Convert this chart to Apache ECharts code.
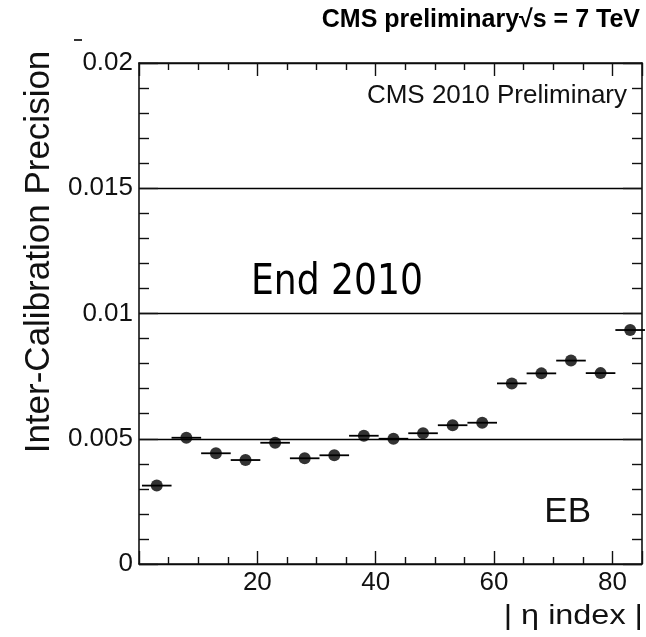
<!DOCTYPE html>
<html>
<head>
<meta charset="utf-8">
<script src="https://cdn.jsdelivr.net/npm/echarts@6/dist/echarts.min.js"></script>
<style>
html,body{margin:0;padding:0;background:#fff;}
#chart{width:646px;height:637px;}
</style>
</head>
<body>
<div id="chart"></div>
<script>
// ---- data ----
const etaCenters = [3, 8, 13, 18, 23, 28, 33, 38, 43, 48, 53, 58, 63, 68, 73, 78, 83];
const precision = [0.00313, 0.00504, 0.00442, 0.00415, 0.00484, 0.00422, 0.00434, 0.00512, 0.00500, 0.00522, 0.00554, 0.00564, 0.00721, 0.00761, 0.00812, 0.00762, 0.00934];
const binWidth = 5;
const xTickLabels = ['', '20', '40', '60', '80'];
const yTickLabels = ['0', '0.005', '0.01', '0.015', '0.02'];
const yTitle = 'Inter-Calibration Precision';
const xTitle = '| \u03b7 index |';
const topTitle = 'CMS preliminary\u221as = 7 TeV';
const innerLabel = 'CMS 2010 Preliminary';
const regionLabel = 'EB';
const annotation = 'End 2010';

const pts = etaCenters.map((x, i) => [x, precision[i]]);

const chart = echarts.init(document.getElementById('chart'), null, {renderer: 'canvas'});
const FONT = '"Liberation Sans", Arial, sans-serif';
const INK = '#111';

function xAxisCfg(pos, showLabel) {
  return {
    type: 'value', position: pos, min: 0, max: 85, interval: 20,
    axisLine: {show: true, onZero: false, lineStyle: {color: INK, width: 1.6}},
    axisTick: {show: true, inside: true, length: 13, lineStyle: {color: INK, width: 1.4}},
    minorTick: {show: true, splitNumber: 4, length: 7, lineStyle: {color: INK, width: 1.4}},
    axisLabel: {show: showLabel, margin: 6, color: INK, fontFamily: FONT, fontSize: 26,
      formatter: (v, i) => xTickLabels[i] !== undefined ? xTickLabels[i] : ''},
    splitLine: {show: false}, minorSplitLine: {show: false}
  };
}
function yAxisCfg(pos, showLabel, split) {
  return {
    type: 'value', position: pos, min: 0, max: 0.02, interval: 0.005,
    axisLine: {show: true, onZero: false, lineStyle: {color: INK, width: 1.6}},
    axisTick: {show: true, inside: true, length: 19, lineStyle: {color: INK, width: 1.4}},
    minorTick: {show: true, splitNumber: 5, length: 10, lineStyle: {color: INK, width: 1.4}},
    axisLabel: {show: showLabel, margin: 6, color: INK, fontFamily: FONT, fontSize: 26,
      formatter: (v, i) => yTickLabels[i]},
    splitLine: {show: split, lineStyle: {color: '#000', width: 1.3}},
    minorSplitLine: {show: false}
  };
}

const option = {
  animation: false,
  backgroundColor: '#fff',
  grid: {left: 139, right: 4, top: 63, bottom: 73, containLabel: false},
  xAxis: [xAxisCfg('bottom', true), xAxisCfg('top', false)],
  yAxis: [yAxisCfg('left', true, true), yAxisCfg('right', false, false)],
  series: [
    {
      type: 'custom',
      xAxisIndex: 0, yAxisIndex: 0,
      data: pts,
      renderItem: function (params, api) {
        const x = api.value(0), y = api.value(1);
        const a = api.coord([x - binWidth / 2, y]);
        const b = api.coord([x + binWidth / 2, y]);
        return {type: 'line', shape: {x1: a[0], y1: a[1], x2: b[0], y2: b[1]},
          style: {stroke: '#000', lineWidth: 1.8}};
      },
      z: 3
    },
    {
      type: 'scatter',
      xAxisIndex: 0, yAxisIndex: 0,
      data: pts,
      symbol: 'circle', symbolSize: 12,
      itemStyle: {color: '#000'},
      z: 4
    }
  ],
  graphic: [
    {type: 'text', x: 39, y: 252, rotation: Math.PI / 2,
      style: {text: yTitle, font: '35px ' + FONT, fill: INK, align: 'center', verticalAlign: 'middle'}},
    {type: 'text', x: 643, y: 617, scaleX: 1.2,
      style: {text: xTitle, font: '27px ' + FONT, fill: INK, align: 'right', verticalAlign: 'middle'}},
    {type: 'text', x: 640, y: 20,
      style: {text: topTitle, font: 'bold 25px ' + FONT, fill: '#000', align: 'right', verticalAlign: 'middle'}},
    {type: 'text', x: 627, y: 96,
      style: {text: innerLabel, font: '26px ' + FONT, fill: INK, align: 'right', verticalAlign: 'middle'}},
    {type: 'text', x: 591, y: 512,
      style: {text: regionLabel, font: '35px ' + FONT, fill: INK, align: 'right', verticalAlign: 'middle'}},
    {type: 'text', x: 251, y: 283, scaleX: 0.86,
      style: {text: annotation, font: '42px "DejaVu Sans", sans-serif', fill: '#000', align: 'left', verticalAlign: 'middle'}},
    {type: 'rect', shape: {x: 74, y: 39, width: 8, height: 2}, style: {fill: '#333'}}
  ]
};
chart.setOption(option);
</script>
</body>
</html>
